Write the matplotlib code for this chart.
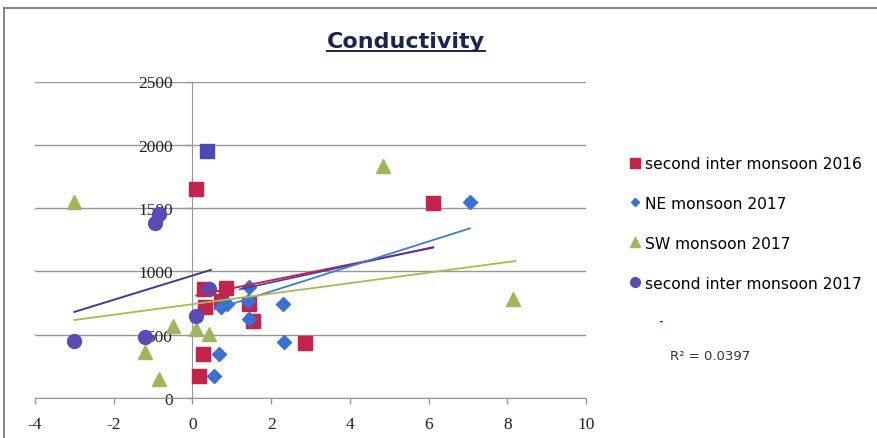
import matplotlib
matplotlib.use("Agg")
import matplotlib.pyplot as plt
from matplotlib.lines import Line2D

# ---- data -------------------------------------------------------------
sim2016_x = [0.1, 0.3, 0.85, 0.33, 0.73, 1.45, 1.53, 0.28, 0.17, 2.85, 6.12]
sim2016_y = [1650, 860, 870, 715, 765, 742, 605, 348, 174, 435, 1540]

ne2017_x = [0.56, 0.68, 0.73, 0.88, 1.42, 1.45, 1.45, 2.3, 2.33, 7.05]
ne2017_y = [174, 348, 718, 745, 770, 877, 625, 745, 440, 1545]

sw2017_x = [-3.0, -1.2, -0.85, -0.5, 0.1, 0.43, 4.85, 8.15]
sw2017_y = [1550, 360, 150, 570, 545, 505, 1830, 780]

sim2017_x = [-3.0, -1.2, -0.95, -0.85, 0.1, 0.42]
sim2017_y = [450, 480, 1380, 1450, 645, 860]

extra_x = [0.38]
extra_y = [1950]

# linear trend lines (end points)
trend2016_x, trend2016_y = [0.1, 6.12], [810, 1188]
trend_ne_x, trend_ne_y = [0.56, 7.05], [700, 1340]
trend_sw_x, trend_sw_y = [-3.0, 8.2], [616, 1082]
trend2017_x, trend2017_y = [-3.0, 0.47], [680, 1012]
trend_all_x, trend_all_y = [1.2, 6.12], [858, 1192]

labels = ["second inter monsoon 2016", "NE monsoon 2017",
          "SW monsoon 2017", "second inter monsoon 2017"]
x_ticks = [-4, -2, 0, 2, 4, 6, 8, 10]
y_ticks = [0, 500, 1000, 1500, 2000, 2500]
r2_text = "R\u00b2 = 0.0397"

# ---- styling ------------------------------------------------------------
C_RED = "#C4234B"
C_BLUE = "#3A70CF"
C_GREEN = "#9DB85C"
C_PURPLE = "#5B4BB5"
C_NAVY_SQ = "#4A4AB2"
C_GRID = "#969696"

W, H = 877, 439
fig = plt.figure(figsize=(W / 100, H / 100), dpi=100)
fig.patch.set_facecolor("white")


def fx(px):
    return px / W


def fy(py):
    return 1 - py / H


ax = fig.add_axes([fx(35), fy(399), fx(586) - fx(35), fy(82.5) - fy(399)])
ax.set_xlim(-4, 10)
ax.set_ylim(0, 2500)
ax.set_xticks(x_ticks)
ax.set_yticks(y_ticks)
ax.set_xticklabels([str(v) for v in x_ticks])
ax.set_yticklabels([str(v) for v in y_ticks])
ax.yaxis.grid(True, color=C_GRID, lw=1.0)
ax.set_axisbelow(True)
for s in ["top", "right"]:
    ax.spines[s].set_visible(False)
ax.spines["left"].set_position(("data", 0))
ax.spines["left"].set_color(C_GRID)
ax.spines["bottom"].set_color(C_GRID)
ax.tick_params(axis="both", colors=C_GRID, labelcolor="#222222",
               direction="out", length=4, width=1)
ax.tick_params(axis="x", pad=9)
ax.tick_params(axis="y", pad=10)
for lab in ax.get_xticklabels() + ax.get_yticklabels():
    lab.set_fontfamily("Liberation Serif")
    lab.set_fontsize(12.5)

# markers
ax.plot(sim2016_x, sim2016_y, ls="none", marker="s", ms=10, color=C_RED,
        mec=C_RED, zorder=3, label=labels[0])
ax.plot(ne2017_x, ne2017_y, ls="none", marker="D", ms=7, color=C_BLUE,
        mec=C_BLUE, zorder=3, label=labels[1])
ax.plot(sw2017_x, sw2017_y, ls="none", marker="^", ms=10, color=C_GREEN,
        mec=C_GREEN, zorder=3, label=labels[2])
ax.plot(sim2017_x, sim2017_y, ls="none", marker="o", ms=10, color=C_PURPLE,
        mec=C_PURPLE, zorder=3, label=labels[3])
ax.plot(extra_x, extra_y, ls="none", marker="s", ms=10, color=C_NAVY_SQ,
        mec=C_NAVY_SQ, zorder=3)

# trend lines
ax.plot(trend2016_x, trend2016_y, color=C_RED, lw=1.4, zorder=4)
ax.plot(trend_all_x, trend_all_y, color="#4B3A9C", lw=1.2, zorder=4)
ax.plot(trend_ne_x, trend_ne_y, color="#3C7FCC", lw=1.3, zorder=4)
ax.plot(trend_sw_x, trend_sw_y, color="#A9B94E", lw=1.3, zorder=4)
ax.plot(trend2017_x, trend2017_y, color="#3F3A96", lw=1.4, zorder=4)

# legend
handles = [
    Line2D([], [], ls="none", marker="s", ms=7, color=C_RED),
    Line2D([], [], ls="none", marker="D", ms=4.5, color=C_BLUE),
    Line2D([], [], ls="none", marker="^", ms=7, color=C_GREEN),
    Line2D([], [], ls="none", marker="o", ms=7, color=C_PURPLE),
]
fig.legend(handles, labels, loc="upper left",
           bbox_to_anchor=(fx(629), fy(157)), bbox_transform=fig.transFigure,
           frameon=False, borderpad=0, borderaxespad=0, handlelength=0.75,
           handletextpad=0.25, labelspacing=1.6,
           prop={"family": "DejaVu Sans", "size": 11.2})

# R^2 annotation and small dash
fig.text(fx(710), fy(357), r2_text, ha="center", va="center",
         fontsize=9.5, color="#333333", family="DejaVu Sans")
fig.text(fx(661), fy(322), "-", ha="center", va="center",
         fontsize=8, color="#2040C0", family="DejaVu Sans", weight="bold")

# title with underline
title = fig.text(fx(406), fy(48), "Conductivity", ha="center", va="baseline",
                 fontsize=16, weight="bold", color="#1B2550",
                 family="DejaVu Sans")
fig.canvas.draw()
bb = title.get_window_extent(fig.canvas.get_renderer())
uy = (H - 52) / H
fig.add_artist(Line2D([bb.x0 / W, bb.x1 / W], [uy, uy], color="#1B2550",
                      lw=1.4, transform=fig.transFigure))

# chart-area border (top and left)
fig.add_artist(Line2D([fx(4), 1.0], [fy(9), fy(9)], color="#6E6E6E",
                      lw=1.2, transform=fig.transFigure))
fig.add_artist(Line2D([fx(4), fx(4)], [fy(9), 0.0], color="#6E6E6E",
                      lw=1.2, transform=fig.transFigure))

fig.savefig("out.png", dpi=100)
